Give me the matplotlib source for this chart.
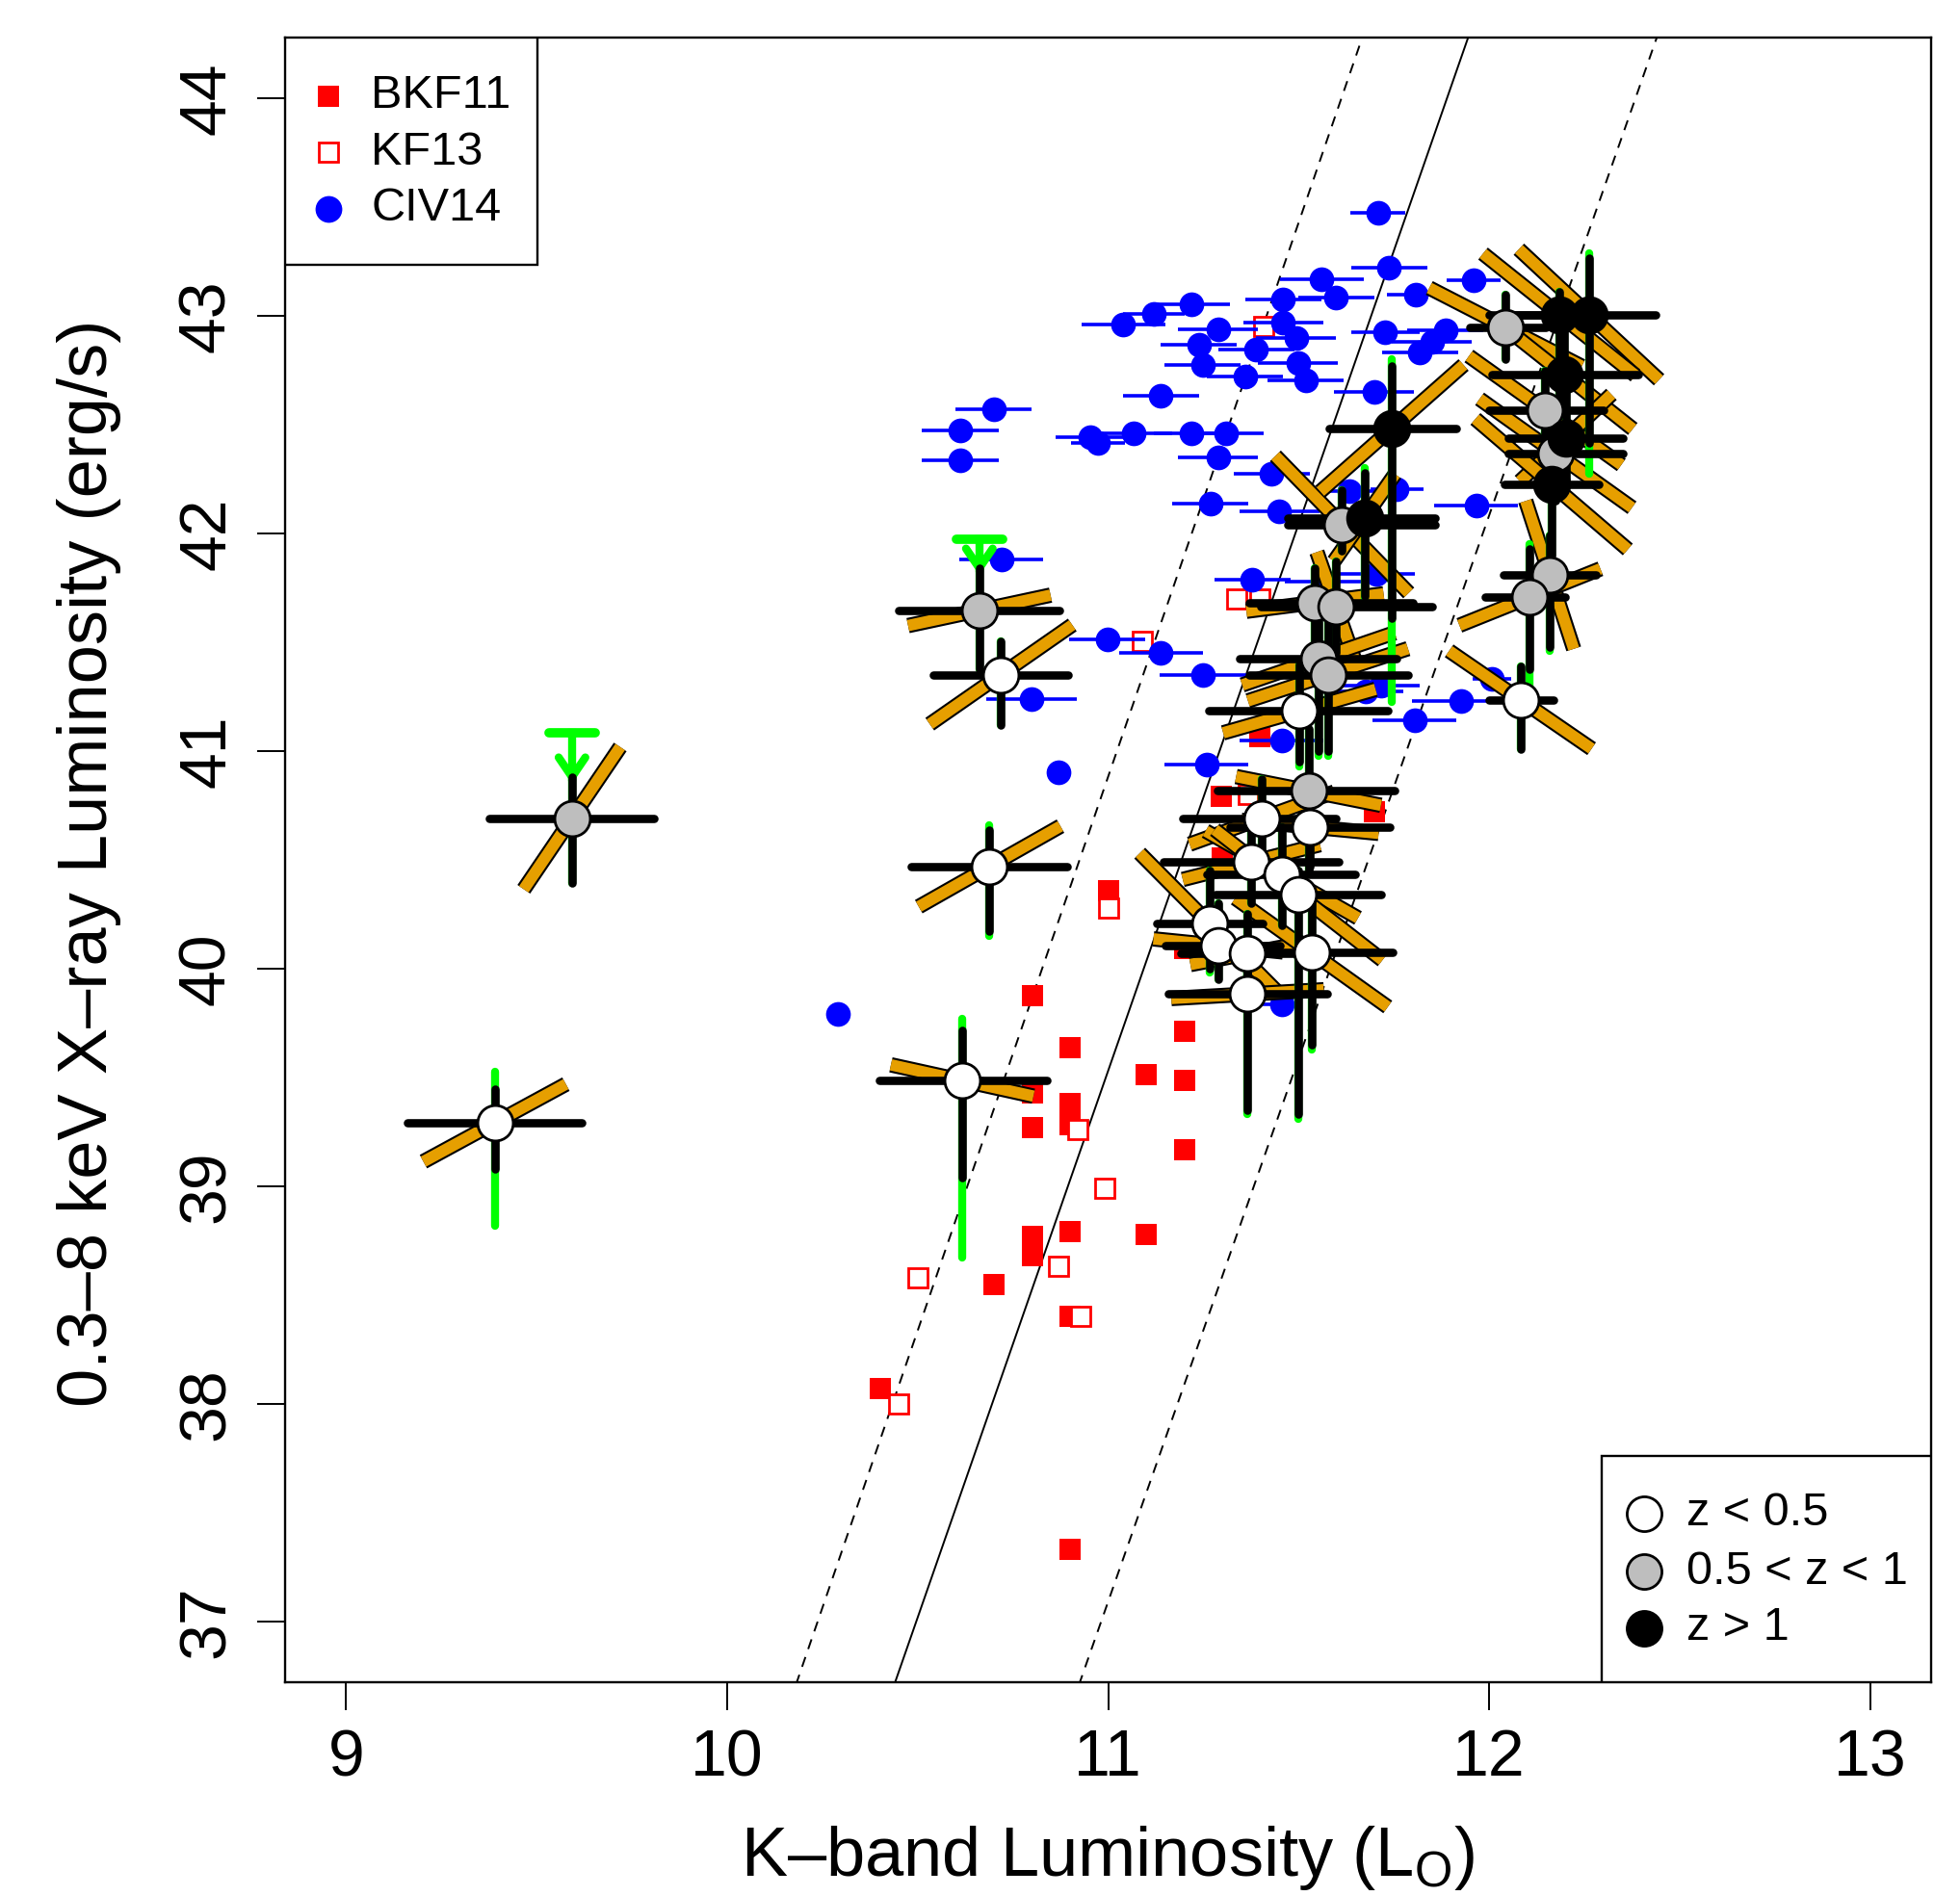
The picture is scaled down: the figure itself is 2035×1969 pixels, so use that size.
import numpy as np
import matplotlib
matplotlib.use('Agg')
import matplotlib.pyplot as plt
import matplotlib.patheffects as pe
from matplotlib.patches import Rectangle

plt.rcParams['font.family'] = ['Liberation Sans', 'DejaVu Sans']
plt.rcParams['mathtext.fontset'] = 'custom'
plt.rcParams['mathtext.rm'] = 'Liberation Sans'
plt.rcParams['mathtext.it'] = 'Liberation Sans'

# ---------------- data ----------------
# relation lines  y = a + b x  (solid, dashed, dashed)
fit_slope = [5.027, 5.094, 4.993]
fit_icpt = [-15.767, -15.152, -17.833]
fit_style = ['-', '--', '--']

# BKF11 (filled red squares)
bkf_x = [10.801, 10.899, 11.099, 11.200, 11.200, 10.801, 10.899, 10.801, 10.899, 11.200,
         10.801, 10.801, 10.899, 11.099, 10.700, 10.899, 10.401, 10.899, 11.000, 11.200,
         11.399, 11.700, 11.300, 11.296]
bkf_y = [39.878, 39.637, 39.515, 39.710, 39.485, 39.427, 39.380, 39.270, 39.285, 39.168,
         38.770, 38.680, 38.790, 38.780, 38.550, 38.400, 38.070, 37.330, 40.360, 40.095,
         41.067, 40.720, 40.507, 40.790]

# KF13 (open red squares)
kf_x = [11.000, 10.920, 10.990, 10.870, 10.929, 10.502, 10.451, 11.408, 11.338, 11.399, 11.090, 11.367]
kf_y = [40.280, 39.260, 38.990, 38.630, 38.400, 38.580, 38.000, 42.950, 41.700, 41.700, 41.505, 40.800]

# CIV14 (blue circles with x errors)
civ_x = [11.708, 11.738, 11.560, 11.959, 11.219, 11.120, 11.040, 11.459, 11.599, 11.808,
         11.289, 11.459, 11.494, 11.728, 11.885, 11.850, 11.818, 11.238, 11.389, 11.248,
         11.499, 11.359, 11.519, 11.138, 11.698, 10.953, 10.973, 11.068, 11.219, 11.309,
         11.289, 11.429, 11.268, 11.449, 11.758, 11.966, 11.379, 11.705, 11.138, 11.250,
         11.675, 11.717, 11.927, 11.805, 12.007, 11.456, 11.259, 11.456, 10.720, 10.799,
         10.871, 10.291, 10.612, 10.612, 10.700, 10.998, 11.634, 11.564]
civ_y = [43.473, 43.222, 43.170, 43.163, 43.052, 43.008, 42.960, 43.074, 43.085, 43.096,
         42.937, 42.971, 42.897, 42.924, 42.934, 42.883, 42.831, 42.868, 42.846, 42.774,
         42.782, 42.723, 42.706, 42.632, 42.651, 42.443, 42.418, 42.462, 42.462, 42.462,
         42.352, 42.273, 42.138, 42.101, 42.204, 42.130, 41.790, 41.813, 41.450, 41.350,
         41.274, 41.300, 41.232, 41.142, 41.330, 41.050, 40.940, 39.837, 41.880, 41.240,
         40.905, 39.790, 42.472, 42.335, 42.570, 41.513, 42.197, 41.778]
civ_xerr = [0.073, 0.10, 0.11, 0.07, 0.10, 0.08, 0.11, 0.10, 0.10, 0.075,
            0.105, 0.105, 0.105, 0.09, 0.10, 0.105, 0.10, 0.10, 0.10, 0.10,
            0.105, 0.10, 0.10, 0.10, 0.105, 0.09, 0.07, 0.10, 0.10, 0.10,
            0.105, 0.10, 0.10, 0.105, 0.07, 0.11, 0.10, 0.10, 0.11, 0.115,
            0.10, 0.10, 0.13, 0.11, 0.05, 0.11, 0.11, 0.05, 0.11, 0.12,
            0.0, 0.0, 0.10, 0.10, 0.10, 0.10, 0.10, 0.10]

# main sample: redshift class 0: z<0.5, 1: 0.5<z<1, 2: z>1
big_x = [9.390, 10.617, 10.689, 10.719, 11.502, 11.404, 11.530, 11.376, 11.456, 11.500,
         11.267, 11.289, 11.366, 11.534, 11.366, 12.082,
         9.593, 10.662, 12.043, 12.147, 12.175, 12.159, 12.107, 11.614, 11.543, 11.598,
         11.552, 11.577, 11.526,
         11.745, 11.673, 12.262, 12.184, 12.197, 12.201, 12.164]
big_y = [39.291, 39.486, 40.470, 41.352, 41.184, 40.692, 40.652, 40.490, 40.433, 40.339,
         40.206, 40.107, 40.069, 40.074, 39.883, 41.236,
         40.692, 41.647, 42.949, 42.566, 42.369, 41.810, 41.708, 42.042, 41.683, 41.665,
         41.424, 41.351, 40.817,
         42.484, 42.073, 43.007, 43.007, 42.731, 42.440, 42.227]
big_zclass = [0] * 16 + [1] * 13 + [2] * 7
big_xlo = [9.160, 10.399, 10.483, 10.542, 11.264, 11.195, 11.321, 11.145, 11.258, 11.283,
           11.128, 11.150, 11.191, 11.427, 11.157, 12.000,
           9.376, 10.451, 11.950, 12.000, 12.050, 12.037, 11.990, 11.472, 11.370, 11.400,
           11.346, 11.371, 11.288,
           11.579, 11.472, 12.060, 12.000, 12.008, 12.050, 12.041]
big_xhi = [9.619, 10.839, 10.892, 10.896, 11.735, 11.598, 11.740, 11.606, 11.649, 11.717,
           11.406, 11.450, 11.569, 11.746, 11.574, 12.170,
           9.809, 10.872, 12.150, 12.300, 12.350, 12.281, 12.200, 11.859, 11.800, 11.850,
           11.758, 11.788, 11.751,
           11.915, 11.859, 12.437, 12.300, 12.391, 12.350, 12.289]
big_ylo = [39.079, 39.040, 40.171, 41.120, 40.950, 40.450, 40.470, 40.300, 40.200, 39.330,
           40.000, 39.950, 39.850, 39.650, 39.350, 41.008,
           40.393, 41.375, 42.800, 42.350, 42.150, 41.479, 41.377, 41.919, 41.500, 41.450,
           41.000, 41.000, 40.450,
           41.609, 41.712, 42.416, 42.600, 42.550, 42.250, 41.900]
big_yhi = [39.446, 39.716, 40.638, 41.506, 41.400, 40.870, 40.850, 40.700, 40.650, 40.450,
           40.450, 40.300, 40.250, 40.350, 40.100, 41.390,
           40.881, 41.841, 43.100, 42.750, 42.600, 41.991, 41.930, 42.199, 41.840, 41.870,
           41.700, 41.600, 41.100,
           42.772, 42.278, 43.266, 43.110, 42.950, 42.650, 42.500]
# green (alternative) vertical range
big_glo = [38.820, 38.671, 40.150, 41.120, 40.930, 40.450, 40.470, 40.300, 40.200, 39.310,
           39.980, 39.950, 39.850, 39.630, 39.330, 41.008,
           40.393, 41.375, 42.800, 42.350, 42.150, 41.460, 41.275, 41.919, 41.500, 41.450,
           40.980, 40.980, 40.450,
           41.225, 41.700, 42.274, 42.600, 42.550, 42.250, 41.900]
big_ghi = [39.527, 39.768, 40.660, 41.506, 41.400, 40.870, 40.850, 40.700, 40.650, 40.450,
           40.450, 40.300, 40.250, 40.350, 40.100, 41.390,
           40.881, 41.841, 43.100, 42.750, 42.600, 41.990, 41.950, 42.199, 41.840, 41.870,
           41.700, 41.600, 41.100,
           42.800, 42.300, 43.290, 43.110, 42.950, 42.650, 42.500]
# orange (correlated error) segment half-extent
big_odx = [0.187, 0.187, 0.186, 0.187, 0.20, 0.19, 0.18, 0.18, 0.20, 0.22,
           0.184, 0.17, 0.15, 0.20, 0.20, 0.187,
           0.1265, 0.187, 0.20, 0.20, 0.20, 0.063, 0.185, 0.175, 0.18, 0.05,
           0.20, 0.21, 0.19,
           0.188, 0.08, 0.184, 0.20, 0.18, 0.12, 0.20]
big_ody = [0.178, -0.072, 0.185, 0.228, 0.10, 0.12, -0.03, 0.08, -0.20, -0.30,
           -0.325, -0.03, 0.05, -0.25, 0.02, -0.225,
           0.327, 0.07, -0.18, -0.25, -0.25, -0.34, 0.13, -0.315, 0.04, -0.25,
           0.12, 0.12, -0.066,
           0.291, 0.20, -0.30, -0.28, -0.25, 0.20, -0.30]

# green upper limits
ul_x = [9.593, 10.662]
ul_top = [41.085, 41.972]
ul_bot = [40.881, 41.841]

zclass_colors = ['white', '#BEBEBE', 'black']
zclass_labels = ['z < 0.5', '0.5 < z < 1', 'z > 1']

ORANGE = '#E69F00'
GREEN = '#00FF00'

# ---------------- figure ----------------
W, H = 2035, 1969
fig = plt.figure(figsize=(W / 100, H / 100), dpi=100)
ax = fig.add_axes([296 / W, 1 - 1747 / H, (2005 - 296) / W, (1747 - 39) / H])
ax.set_xlim(9 - 0.16, 13 + 0.16)
ax.set_ylim(37 - 0.28, 44 + 0.28)

xs = np.array([8.5, 13.5])
for b, a, ls in zip(fit_slope, fit_icpt, fit_style):
    if ls == '--':
        ax.plot(xs, a + b * xs, color='black', lw=1.4, dashes=(5.5, 4.5), zorder=2)
    else:
        ax.plot(xs, a + b * xs, color='black', lw=1.4, zorder=2)

ax.plot(bkf_x, bkf_y, 's', color='red', ms=16.5, mew=0, zorder=3, ls='none')
ax.plot(kf_x, kf_y, 's', mfc='white', mec='red', ms=14, mew=2.0, zorder=3.1, ls='none')
ax.errorbar(civ_x, civ_y, xerr=civ_xerr, fmt='o', color='blue', ms=18.5, mew=0,
            elinewidth=2.6, capsize=0, zorder=4)

stroke = [pe.Stroke(linewidth=11.5, foreground='black'), pe.Normal()]
for i in range(len(big_x)):
    x, y = big_x[i], big_y[i]
    ax.plot([x - big_odx[i], x + big_odx[i]], [y - big_ody[i], y + big_ody[i]],
            color=ORANGE, lw=8.5, solid_capstyle='butt', path_effects=stroke, zorder=5)
for i in range(len(big_x)):
    x = big_x[i]
    ax.plot([x, x], [big_glo[i], big_ghi[i]], color=GREEN, lw=6, solid_capstyle='round', zorder=6)
for ux, ut, ub in zip(ul_x, ul_top, ul_bot):
    ax.plot([ux - 0.06, ux + 0.06], [ut, ut], color=GREEN, lw=7, solid_capstyle='round', zorder=6)
    ax.plot([ux, ux], [ut, ub], color=GREEN, lw=6, zorder=6)
    ax.plot([ux - 0.035, ux, ux + 0.035], [ub + 0.09, ub, ub + 0.09], color=GREEN, lw=6,
            solid_capstyle='round', solid_joinstyle='miter', zorder=6)
for i in range(len(big_x)):
    x, y = big_x[i], big_y[i]
    ax.plot([x, x], [big_ylo[i], big_yhi[i]], color='black', lw=6.2, solid_capstyle='round', zorder=7)
    ax.plot([big_xlo[i], big_xhi[i]], [y, y], color='black', lw=6.2, solid_capstyle='round', zorder=7)
for i in range(len(big_x)):
    ax.plot(big_x[i], big_y[i], 'o', mfc=zclass_colors[big_zclass[i]], mec='black',
            ms=26.5, mew=2.0, zorder=8)

# axes styling
for s in ax.spines.values():
    s.set_linewidth(1.7)
ax.set_xticks([9, 10, 11, 12, 13])
ax.set_yticks([37, 38, 39, 40, 41, 42, 43, 44])
ax.tick_params(axis='both', direction='out', length=21, width=1.4, labelsize=49)
ax.tick_params(axis='x', pad=13)
ax.tick_params(axis='y', pad=14, labelrotation=90)
for lab in ax.get_yticklabels():
    lab.set_va('center')
ax.set_xlabel('K\u2013band Luminosity (L$_{\\mathrm{O}}$)', fontsize=52)
ax.xaxis.set_label_coords(0.4997, -0.086)
ax.set_ylabel('0.3\u20138 keV X\u2013ray Luminosity (erg/s)', fontsize=52, va='bottom')
ax.yaxis.set_label_coords(-0.0995, 0.498)

# legend 1 (samples)
ax.add_patch(Rectangle((0, 0.8618), 0.1533, 0.1382, transform=ax.transAxes,
                       facecolor='white', edgecolor='black', lw=1.7, zorder=10))
leg1_y = [0.9643, 0.9303, 0.8958]
ax.plot([0.0263], [leg1_y[0]], 's', color='red', ms=16, mew=0, transform=ax.transAxes, zorder=11, clip_on=False)
ax.plot([0.0263], [leg1_y[1]], 's', mfc='white', mec='red', ms=14, mew=2.0, transform=ax.transAxes, zorder=11, clip_on=False)
ax.plot([0.0263], [leg1_y[2]], 'o', color='blue', ms=20, mew=0, transform=ax.transAxes, zorder=11, clip_on=False)
for t, yy in zip(['BKF11', 'KF13', 'CIV14'], leg1_y):
    ax.text(0.0521, yy, t, transform=ax.transAxes, fontsize=35, va='center', ha='left', zorder=11)

# legend 2 (redshift)
ax.add_patch(Rectangle((0.7999, 0), 0.2001, 0.1376, transform=ax.transAxes,
                       facecolor='white', edgecolor='black', lw=1.7, zorder=10))
leg2_y = [0.1025, 0.0673, 0.0328]
for c, t, yy in zip(zclass_colors, zclass_labels, leg2_y):
    ax.plot([0.8256], [yy], 'o', mfc=c, mec='black', ms=26, mew=2.0, transform=ax.transAxes, zorder=11, clip_on=False)
    ax.text(0.8514, yy, t, transform=ax.transAxes, fontsize=35, va='center', ha='left', zorder=11)

fig.savefig('out.png', dpi=100, facecolor='white')
